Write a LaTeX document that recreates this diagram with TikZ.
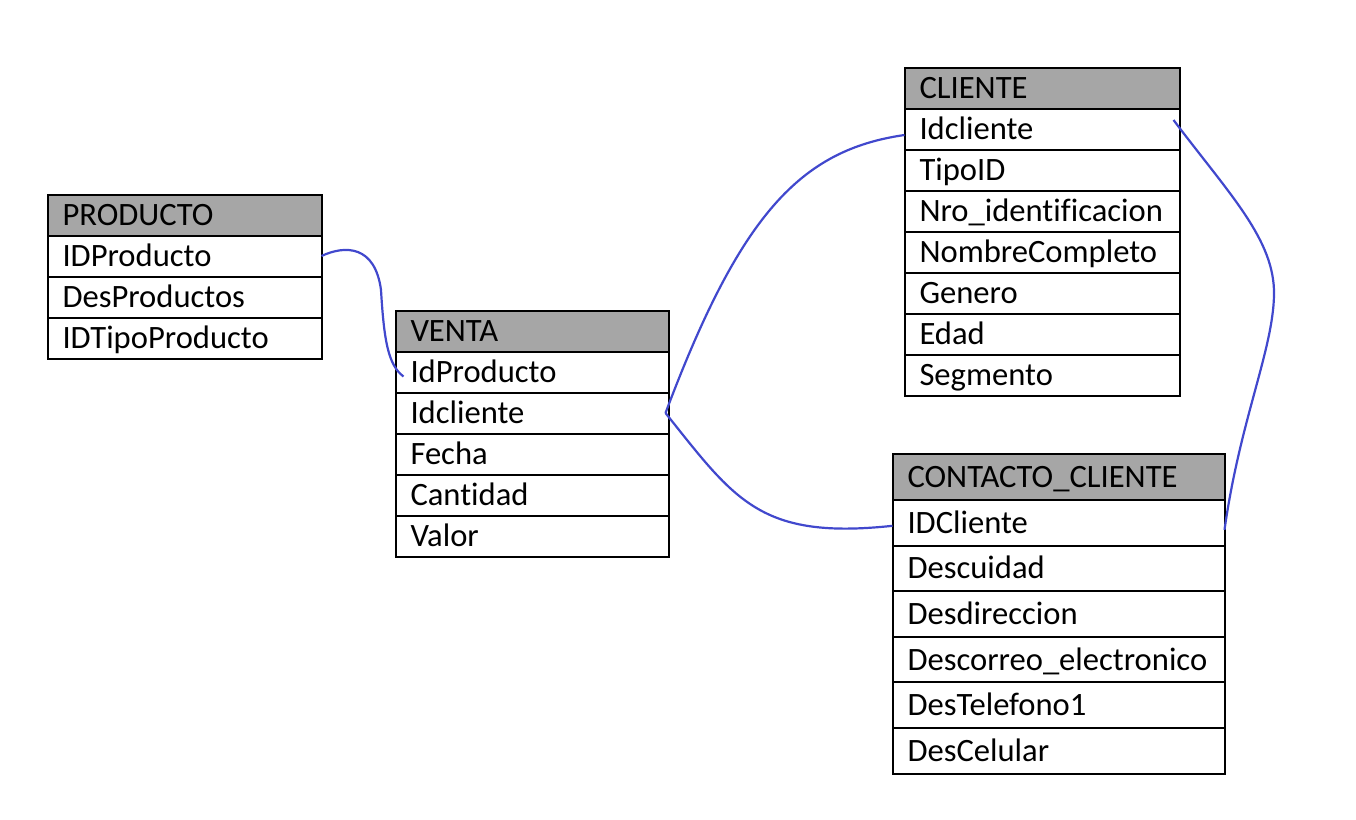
\documentclass[tikz,border=0pt]{standalone}
\usepackage{fontspec}
\setmainfont{Carlito}[Ligatures=NoCommon]
\usetikzlibrary{positioning}
\definecolor{gris}{RGB}{166,166,166}
\definecolor{azul}{RGB}{65,72,205}

\begin{document}
\begin{tikzpicture}[
x=1pt, y=-1pt,
campo/.style ={draw, line width=2pt, outer sep=0pt, inner xsep=15pt, inner ysep=0pt, align=left,
               text height=21pt, text depth=0pt, minimum height=41pt, anchor=north west,
               font=\fontsize{32.6}{38}\selectfont},
titulo/.style ={campo, fill=gris},
relacion/.style={line width=2.2pt, draw=azul}
]
\useasboundingbox (0,0) rectangle (1356,819);

% PRODUCTO
\begin{scope}[every node/.append style={text width=244pt}]
\node[titulo] (producto) at (47.5,194.5) {PRODUCTO};
\node[campo, below=0pt of producto] (producto-1) {IDProducto};
\node[campo, below=0pt of producto-1] (producto-2) {DesProductos};
\node[campo, below=0pt of producto-2] (producto-3) {IDTipoProducto};
\end{scope}

% VENTA
\begin{scope}[every node/.append style={text width=243pt}]
\node[titulo] (venta) at (395.5,310.5) {VENTA};
\node[campo, below=0pt of venta] (venta-1) {IdProducto};
\node[campo, below=0pt of venta-1] (venta-2) {Idcliente};
\node[campo, below=0pt of venta-2] (venta-3) {Fecha};
\node[campo, below=0pt of venta-3] (venta-4) {Cantidad};
\node[campo, below=0pt of venta-4] (venta-5) {Valor};
\end{scope}

% CLIENTE
\begin{scope}[every node/.append style={text width=245pt}]
\node[titulo] (cliente) at (904.5,67.5) {CLIENTE};
\node[campo, below=0pt of cliente] (cliente-1) {Idcliente};
\node[campo, below=0pt of cliente-1] (cliente-2) {TipoID};
\node[campo, below=0pt of cliente-2] (cliente-3) {Nro\_identificacion};
\node[campo, below=0pt of cliente-3] (cliente-4) {NombreCompleto};
\node[campo, below=0pt of cliente-4] (cliente-5) {Genero};
\node[campo, below=0pt of cliente-5] (cliente-6) {Edad};
\node[campo, below=0pt of cliente-6] (cliente-7) {Segmento};
\end{scope}

% CONTACTO_CLIENTE
\begin{scope}[every node/.append style={text width=302pt}, campo/.append style={minimum height=45.6pt}]
\node[titulo, minimum height=46pt] (contacto) at (892.5,454) {CONTACTO\_CLIENTE};
\node[campo, below=0pt of contacto] (contacto-1) {IDCliente};
\node[campo, below=0pt of contacto-1] (contacto-2) {Descuidad};
\node[campo, below=0pt of contacto-2] (contacto-3) {Desdireccion};
\node[campo, below=0pt of contacto-3] (contacto-4) {Descorreo\_electronico};
\node[campo, below=0pt of contacto-4] (contacto-5) {DesTelefono1};
\node[campo, below=0pt of contacto-5] (contacto-6) {DesCelular};
\end{scope}

% relaciones
\draw[relacion] (producto-1.east) .. controls (345,245) and (375,245) .. (381,290)
  .. controls (384,340) and (388,365) .. ([xshift=8pt,yshift=-4.5pt]venta-1.west);
\draw[relacion] ([xshift=-3pt]venta-2.east) .. controls (740,215) and (800,150) .. ([yshift=-6pt]cliente-1.west);
\draw[relacion] ([xshift=-3pt]venta-2.east) .. controls (735,500) and (760,540) .. ([yshift=-3pt]contacto-1.west);
\draw[relacion] ([xshift=-6pt,yshift=9pt]cliente-1.east) .. controls (1230,195) and (1275,240) .. (1274,295)
  .. controls (1273,350) and (1240,420) .. ([yshift=-7pt]contacto-1.east);
\end{tikzpicture}
\end{document}
